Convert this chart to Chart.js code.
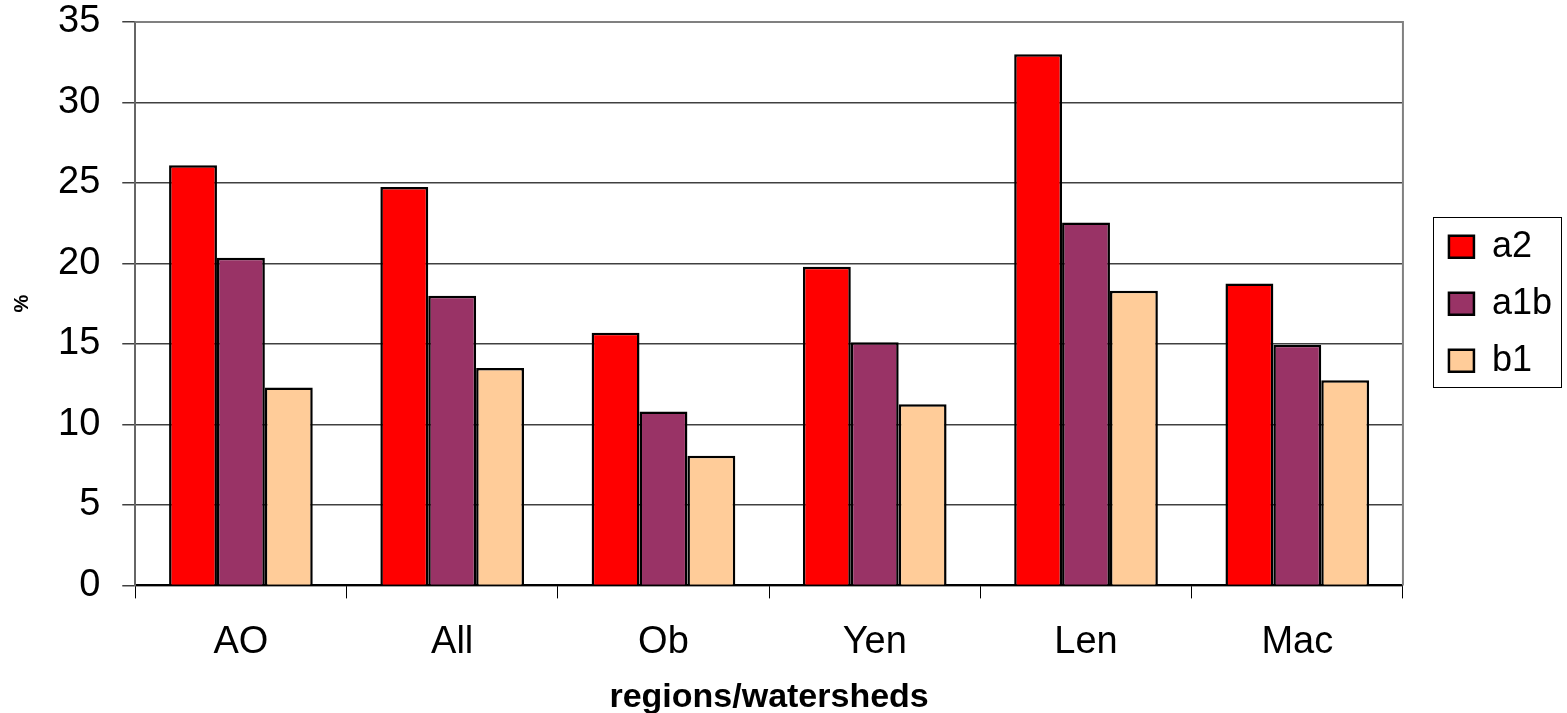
<!DOCTYPE html>
<html lang="en">
<head>
    <meta charset="UTF-8">
    <title>regions/watersheds</title>
    <style>
        body {
            margin: 0;
            background-color: #ffffff;
        }
        #chartContainer {
            width: 1567px;
            height: 713px;
        }
    </style>
    <script src="https://cdn.jsdelivr.net/npm/chart.js@4.4.0/dist/chart.umd.min.js"></script>
</head>
<body>
    <div id="chartContainer">
        <canvas id="myChart" width="1567" height="713"></canvas>
    </div>
    <script>
        // categories and series
        const regions = ['AO', 'All', 'Ob', 'Yen', 'Len', 'Mac'];
        const a2 = [26.1, 24.75, 15.7, 19.8, 33.0, 18.75];
        const a1b = [20.35, 18.0, 10.8, 15.1, 22.55, 14.95];
        const b1 = [12.3, 13.5, 8.05, 11.25, 18.3, 12.75];
        const yTicks = [0, 5, 10, 15, 20, 25, 30, 35];

        const font = "'Liberation Sans', Arial, sans-serif";

        // legend sits beside the plot, centred on it, with a thin box round it
        const framePlugin = {
            id: 'frame',
            afterLayout(chart) {
                const lg = chart.legend;
                const a = chart.chartArea;
                lg.left += 25;
                lg.right += 25;
                lg.top = a.top;
                lg.bottom = a.bottom;
            },
            afterDraw(chart) {
                const ctx = chart.ctx;
                const a = chart.chartArea;
                ctx.save();
                ctx.strokeStyle = '#808080';
                ctx.lineWidth = 2;
                ctx.beginPath();
                ctx.moveTo(a.left, a.top);
                ctx.lineTo(a.right, a.top);
                ctx.lineTo(a.right, a.bottom);
                ctx.stroke();

                const cy = (a.top + a.bottom) / 2;
                ctx.strokeStyle = '#000000';
                ctx.lineWidth = 1;
                ctx.strokeRect(Math.round(a.right) + 30.5, Math.round(cy) - 86.5, 128, 170);
                ctx.restore();
            }
        };

        const ctx = document.getElementById('myChart').getContext('2d');
        const chart = new Chart(ctx, {
            type: 'bar',
            data: {
                labels: regions,
                datasets: [
                    { label: 'a2', data: a2, backgroundColor: '#FF0000' },
                    { label: 'a1b', data: a1b, backgroundColor: '#993366' },
                    { label: 'b1', data: b1, backgroundColor: '#FFCC99' }
                ]
            },
            options: {
                responsive: false,
                animation: false,
                layout: {
                    padding: { left: 6, top: 0, right: 30, bottom: -2 }
                },
                datasets: {
                    bar: {
                        borderColor: '#000000',
                        borderWidth: 2.5,
                        barPercentage: 1.0,
                        categoryPercentage: 0.68
                    }
                },
                plugins: {
                    legend: {
                        position: 'right',
                        labels: {
                            color: '#000000',
                            font: { family: font, size: 36 },
                            boxWidth: 25,
                            boxHeight: 22,
                            padding: 21
                        }
                    },
                    tooltip: { enabled: false }
                },
                scales: {
                    x: {
                        grid: {
                            offset: true,
                            drawOnChartArea: false,
                            drawTicks: true,
                            tickLength: 13,
                            color: '#000000'
                        },
                        border: { color: '#000000', width: 2 },
                        ticks: {
                            color: '#000000',
                            font: { family: font, size: 38 },
                            padding: 21
                        },
                        title: {
                            display: true,
                            text: 'regions/watersheds',
                            color: '#000000',
                            font: { family: font, size: 34, weight: 'bold', lineHeight: 1 },
                            padding: { top: -5, bottom: 0 }
                        }
                    },
                    y: {
                        min: 0,
                        max: 35,
                        afterBuildTicks(axis) {
                            axis.ticks = yTicks.map(v => ({ value: v }));
                        },
                        afterFit(axis) {
                            axis.paddingTop = 22;
                        },
                        grid: {
                            color: '#404040',
                            lineWidth: 1.5,
                            tickLength: 13
                        },
                        border: { color: '#666666', width: 2 },
                        ticks: {
                            color: '#000000',
                            font: { family: font, size: 38 },
                            padding: 22
                        },
                        title: {
                            display: true,
                            text: '%',
                            color: '#000000',
                            font: { family: font, size: 20, weight: 'bold' },
                            padding: { top: 4, bottom: 2 }
                        }
                    }
                }
            },
            plugins: [framePlugin]
        });
    </script>
</body>
</html>
